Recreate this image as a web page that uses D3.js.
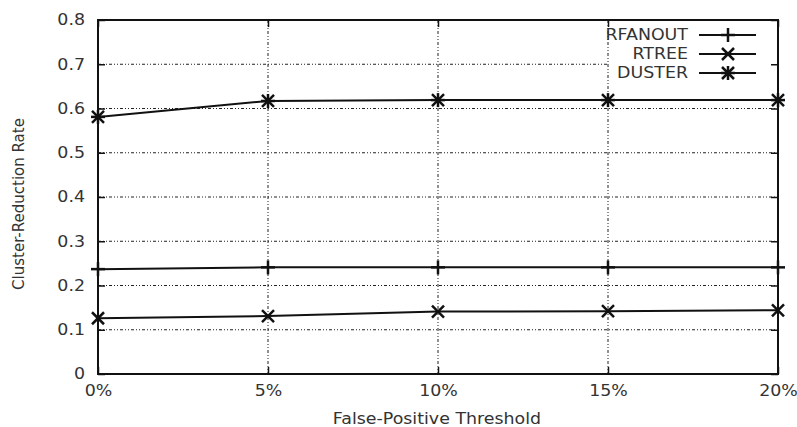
<!DOCTYPE html>
<html>
<head>
<meta charset="utf-8">
<script src="https://cdn.jsdelivr.net/npm/d3@7"></script>
<style>
  body { margin: 0; background: #fff; }
  text { font-family: "DejaVu Sans", sans-serif; fill: #333; }
</style>
</head>
<body>
<svg id="chart"></svg>
<script>
// Chart data
const thresholds = ["0%", "5%", "10%", "15%", "20%"];
const rfanout = [0.237, 0.241, 0.241, 0.241, 0.241];
const rtree = [0.126, 0.131, 0.141, 0.142, 0.144];
const duster = [0.581, 0.617, 0.619, 0.619, 0.619];
const yTicks = [0, 0.1, 0.2, 0.3, 0.4, 0.5, 0.6, 0.7, 0.8];
const yTickLabels = ["0", "0.1", "0.2", "0.3", "0.4", "0.5", "0.6", "0.7", "0.8"];

const series = [
    { name: "RFANOUT", values: rfanout, marker: "plus" },
    { name: "RTREE", values: rtree, marker: "cross" },
    { name: "DUSTER", values: duster, marker: "star" }
];

const width = 797;
const height = 427;
const margin = { top: 20, right: 19, bottom: 53, left: 98 };
const fontSize = 15;
const stretchX = 1.16; // the source picture is a bit wider than tall

const svg = d3.select("#chart")
    .attr("width", width)
    .attr("height", height);

// widen glyphs horizontally like the source
function stretch(sel) {
    sel.each(function () {
        const w = this.getComputedTextLength();
        d3.select(this)
            .attr("textLength", w * stretchX)
            .attr("lengthAdjust", "spacingAndGlyphs");
    });
}

const x = d3.scalePoint()
    .domain(thresholds)
    .range([margin.left, width - margin.right]);

const y = d3.scaleLinear()
    .domain([0, 0.8])
    .range([height - margin.bottom, margin.top]);

const gridDash = "3,2,1,2,1,2";

// Horizontal grid lines
svg.append("g")
    .selectAll("line")
    .data(yTicks.slice(1, -1))
    .enter()
    .append("line")
    .attr("x1", margin.left)
    .attr("x2", width - margin.right)
    .attr("y1", d => y(d))
    .attr("y2", d => y(d))
    .attr("stroke", "#222")
    .attr("stroke-width", 1)
    .attr("stroke-dasharray", gridDash);

// Legend background (opaque key hides the grid behind it)
const legendX = 688;
const legendY = 35;
const legendStep = 19;
svg.append("rect")
    .attr("x", 609)
    .attr("y", margin.top + 1)
    .attr("width", width - margin.right - 610)
    .attr("height", 62)
    .attr("fill", "#fff");

// Vertical grid lines
svg.append("g")
    .selectAll("line")
    .data(thresholds.slice(1, -1))
    .enter()
    .append("line")
    .attr("x1", d => x(d))
    .attr("x2", d => x(d))
    .attr("y1", margin.top)
    .attr("y2", height - margin.bottom)
    .attr("stroke", "#222")
    .attr("stroke-width", 1)
    .attr("stroke-dasharray", gridDash);

// Axes (with inward ticks on all sides, like gnuplot)
svg.append("g")
    .attr("transform", `translate(${margin.left},0)`)
    .call(d3.axisLeft(y).tickValues(yTicks).tickSize(-7).tickPadding(13)
        .tickFormat((d, i) => yTickLabels[i]))
    .call(g => g.selectAll("text").attr("font-size", fontSize).call(stretch))
    .call(g => g.select(".domain").remove());

svg.append("g")
    .attr("transform", `translate(${width - margin.right},0)`)
    .call(d3.axisRight(y).tickValues(yTicks).tickSize(-7).tickFormat(""))
    .call(g => g.select(".domain").remove());

svg.append("g")
    .attr("transform", `translate(0,${height - margin.bottom})`)
    .call(d3.axisBottom(x).tickSize(-7).tickPadding(11))
    .call(g => g.selectAll("text").attr("font-size", fontSize).call(stretch))
    .call(g => g.select(".domain").remove());

svg.append("g")
    .attr("transform", `translate(0,${margin.top})`)
    .call(d3.axisTop(x).tickSize(-7).tickFormat(""))
    .call(g => g.select(".domain").remove());

svg.selectAll(".tick line").attr("stroke", "#111").attr("stroke-width", 1.5);

// Frame
svg.append("rect")
    .attr("x", margin.left)
    .attr("y", margin.top)
    .attr("width", width - margin.left - margin.right)
    .attr("height", height - margin.top - margin.bottom)
    .attr("fill", "none")
    .attr("stroke", "#111")
    .attr("stroke-width", 2);

// Markers
function drawMarker(g, type, cx, cy) {
    const s = 7;
    const d = 6;
    if (type === "plus" || type === "star") {
        g.append("line").attr("x1", cx - s).attr("x2", cx + s).attr("y1", cy).attr("y2", cy);
        g.append("line").attr("x1", cx).attr("x2", cx).attr("y1", cy - s).attr("y2", cy + s);
    }
    if (type === "cross" || type === "star") {
        g.append("line").attr("x1", cx - d).attr("x2", cx + d).attr("y1", cy - d).attr("y2", cy + d);
        g.append("line").attr("x1", cx - d).attr("x2", cx + d).attr("y1", cy + d).attr("y2", cy - d);
    }
}

const line = d3.line()
    .x((d, i) => x(thresholds[i]))
    .y(d => y(d));

series.forEach(s => {
    svg.append("path")
        .datum(s.values)
        .attr("d", line)
        .attr("fill", "none")
        .attr("stroke", "#111")
        .attr("stroke-width", 2);

    const mg = svg.append("g").attr("stroke", "#111").attr("stroke-width", 2.5);
    s.values.forEach((v, i) => drawMarker(mg, s.marker, x(thresholds[i]), y(v)));
});

// Legend
series.forEach((s, i) => {
    const ly = legendY + i * legendStep;
    svg.append("text")
        .attr("x", legendX)
        .attr("y", ly)
        .attr("dy", "0.36em")
        .attr("text-anchor", "end")
        .attr("font-size", fontSize)
        .text(s.name)
        .call(stretch);
    svg.append("line")
        .attr("x1", 699).attr("x2", 756)
        .attr("y1", ly).attr("y2", ly)
        .attr("stroke", "#111").attr("stroke-width", 2);
    const mg = svg.append("g").attr("stroke", "#111").attr("stroke-width", 2.5);
    drawMarker(mg, s.marker, 728, ly);
});

// Axis titles
svg.append("text")
    .attr("x", 437)
    .attr("y", 424)
    .attr("text-anchor", "middle")
    .attr("font-size", fontSize)
    .text("False-Positive Threshold")
    .call(stretch);

svg.append("text")
    .attr("transform", "translate(24,204) rotate(-90)")
    .attr("text-anchor", "middle")
    .attr("font-size", fontSize)
    .text("Cluster-Reduction Rate");
</script>
</body>
</html>
